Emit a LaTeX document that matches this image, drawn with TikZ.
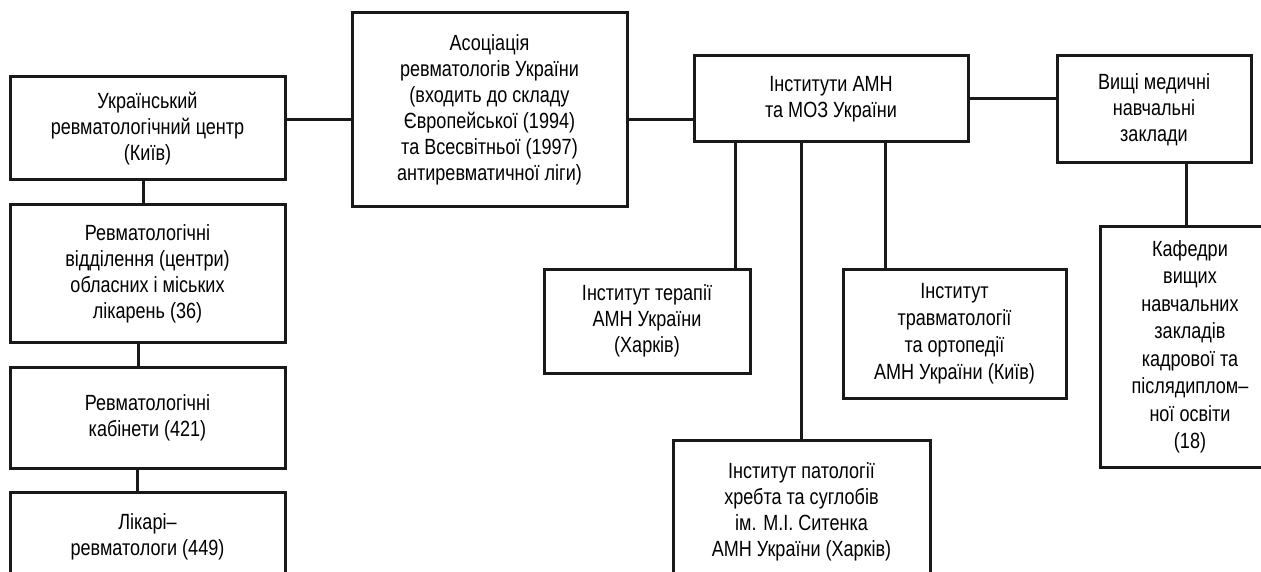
\documentclass[tikz,border=0pt]{standalone}
\usepackage{fontspec}
\setmainfont[FakeStretch=0.82]{Liberation Sans}
\usetikzlibrary{calc}

\begin{document}
\begin{tikzpicture}[x=1pt, y=-1pt,
  unit/.style={draw=black!90, line width=3pt, inner sep=0pt, align=center,
    font=\fontsize{22}{26}\selectfont, text=black},
  link/.style={draw=black!90, line width=3pt}]

\useasboundingbox (0,0) rectangle (1261,572);
\clip (0,0) rectangle (1261,572);

% left column
\draw (147.5,128.5) node[unit, minimum width=275pt, minimum height=103pt] (ukr)
  {Український\\ревматологічний центр\\(Київ)};
\draw (147.5,273.5) node[unit, minimum width=275pt, minimum height=137pt] (vid)
  {Ревматологічні\\відділення (центри)\\обласних і міських\\лікарень (36)};
\draw (147.5,417.5) node[unit, minimum width=275pt, minimum height=101pt] (kab)
  {Ревматологічні\\кабінети (421)};
\draw (147.5,537) node[unit, minimum width=275pt, minimum height=90pt] (lik)
  {Лікарі–\\ревматологи (449)};

% association
\draw (489.5,110) node[unit, minimum width=275pt, minimum height=194pt] (asoc)
  {Асоціація\\ревматологів України\\(входить до складу\\Європейської (1994)\\та Всесвітньої (1997)\\антиревматичної ліги)};

% institutes
\draw (831,99) node[unit, minimum width=274pt, minimum height=86pt] (inst)
  {Інститути АМН\\та МОЗ України};
\draw (647,321) node[unit, minimum width=206pt, minimum height=104pt] (ter)
  {Інститут терапії\\АМН України\\(Харків)};
\draw (801.5,512) node[unit, minimum width=257pt, minimum height=144pt] (syt)
  {Інститут патології\\хребта та суглобів\\ім. М.І. Ситенка\\АМН України (Харків)};
\draw (954.5,333.5) node[unit, minimum width=223pt, minimum height=129pt,
  font=\fontsize{22}{27}\selectfont] (trav)
  {Інститут\\травматології\\та ортопедії\\АМН України (Київ)};

% higher schools
\draw (1154,109.5) node[unit, minimum width=194pt, minimum height=107pt] (vyshchi)
  {Вищі медичні\\навчальні\\заклади};
\draw (1190,347) node[unit, minimum width=180pt, minimum height=240pt,
  font=\fontsize{22}{27.5}\selectfont] (kaf)
  {Кафедри\\вищих\\навчальних\\закладів\\кадрової та\\післядиплом–\\ної освіти\\(18)};

% connectors
\draw[link] ($(ukr.east)+(0,-8.5)$) coordinate (ua) -- (ua -| asoc.west);
\draw[link] ($(asoc.east)+(0,10)$) coordinate (ai) -- (ai -| inst.west);
\draw[link] (inst.east) -- (inst.east -| vyshchi.west);
\draw[link] ($(ukr.south)+(-4.5,0)$) coordinate (uv) -- (uv |- vid.north);
\draw[link] ($(vid.south)+(-9.5,0)$) coordinate (vk) -- (vk |- kab.north);
\draw[link] ($(kab.south)+(-10.5,0)$) coordinate (kl) -- (kl |- lik.north);
\draw[link] ($(inst.south west)+(43,0)$) coordinate (it) -- (it |- ter.north);
\draw[link] (inst.south -| syt.north) -- (syt.north);
\draw[link] ($(inst.south west)+(193,0)$) coordinate (itr) -- (itr |- trav.north);
\draw[link] ($(vyshchi.south)+(32,0)$) coordinate (vkf) -- (vkf |- kaf.north);
\end{tikzpicture}
\end{document}
